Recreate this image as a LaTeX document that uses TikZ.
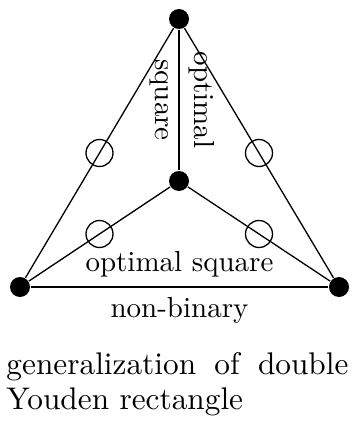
\documentclass[tikz,border=0pt]{standalone}
\begin{document}
\begin{tikzpicture}[x=0.345pt,y=-0.345pt,
  vdot/.style={circle,fill=black,inner sep=0pt,minimum size=20*0.345pt},
  ring/.style={circle,draw,inner sep=0pt,minimum size=27*0.345pt},
  edge/.style={draw,line width=0.45pt}]
\useasboundingbox (0,0) rectangle (355,426);
\node[vdot] (t) at (179,19) {};
\node[vdot] (c) at (179,181) {};
\node[vdot] (l) at (20,287) {};
\node[vdot] (r) at (339,287) {};
\path[edge] (l) -- node[ring] (r1) {} (t);
\path[edge] (r) -- node[ring] (r2) {} (t);
\path[edge] (l) -- node[ring] (r3) {} (c);
\path[edge] (r) -- node[ring] (r4) {} (c);
\path[edge] (t) -- node[sloped,above] (o1) {optimal} node[sloped,below] (s1) {square} (c);
\path[edge] (l) -- node[above] (o2) {optimal square} node[below] (nb) {non-binary} (r);
\node[text width=118pt,align=justify,inner sep=0pt,font=\fontsize{10.8}{12.1}\selectfont] (cap) at (177.5,384)
  {\hyphenpenalty=10000 generalization of double Youden rectangle};
\end{tikzpicture}
\end{document}
